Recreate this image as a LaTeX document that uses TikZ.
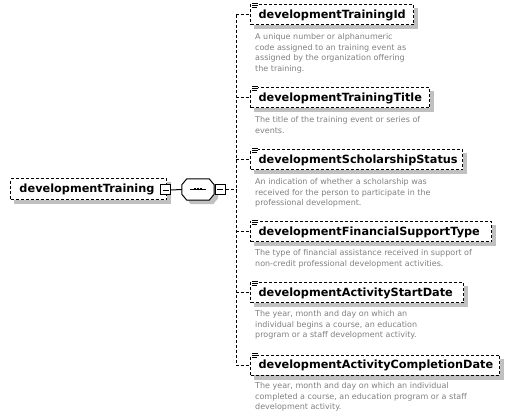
\documentclass[tikz,border=0pt]{standalone}
\usepackage{fontspec}
\setmainfont{DejaVu Sans}
\usetikzlibrary{backgrounds}
\definecolor{shadowgray}{RGB}{192,192,192}
\definecolor{descgray}{RGB}{128,128,128}
\tikzset{
  elem/.style={draw, dash pattern=on 3pt off 2pt, line width=1pt, fill=white,
    minimum height=20pt, inner sep=0pt, anchor=west,
    font=\fontsize{11.3}{13}\selectfont\bfseries, align=left},
  desc/.style={anchor=north west, inner sep=0pt,
    font=\fontsize{8}{10.8}\selectfont, text=descgray, align=left},
  minusbox/.style={draw, fill=white, line width=1pt, minimum size=10pt, inner sep=0pt},
  conn/.style={dash pattern=on 3pt off 2pt, line width=1pt},
  solidline/.style={line width=1pt},
  octframe/.style={inner sep=0pt, minimum width=32pt, minimum height=21pt},
}
\newcommand{\shadowof}[1]{\fill[shadowgray] ([shift={(4pt,-4pt)}]#1.south west) rectangle ([shift={(4pt,-4pt)}]#1.north east);}
\newcommand{\octpath}[1]{([xshift=5pt]#1.north west) -- ([xshift=-5pt]#1.north east) -- ([yshift=-6pt]#1.north east) -- ([yshift=6pt]#1.south east) -- ([xshift=-5pt]#1.south east) -- ([xshift=5pt]#1.south west) -- ([yshift=6pt]#1.south west) -- ([yshift=-6pt]#1.north west) -- cycle}
\newcommand{\iconat}[1]{%
  \fill[white] ([shift={(1pt,1.5pt)}]#1.north west) rectangle ([shift={(8pt,-4.5pt)}]#1.north west);
  \draw[line width=0.8pt] ([shift={(2pt,1pt)}]#1.north west) -- ([shift={(8pt,1pt)}]#1.north west);
  \draw[line width=0.8pt] ([shift={(2pt,-1pt)}]#1.north west) -- ([shift={(8pt,-1pt)}]#1.north west);
  \draw[line width=0.8pt] ([shift={(2pt,-3pt)}]#1.north west) -- ([shift={(7pt,-3pt)}]#1.north west);}
\begin{document}
\begin{tikzpicture}[x=1pt,y=-1pt]
\useasboundingbox (0,0) rectangle (511,419);

% root
\node[elem, minimum width=156pt, text width=138pt, minimum height=21pt] (root) at (10,189.5) {developmentTraining};
\node[minusbox] (rootminus) at (165.5,190) {};
\draw[line width=0.8pt] ([xshift=-3pt]rootminus.center) -- ([xshift=3pt]rootminus.center);

% sequence compositor
\node[octframe] (seqshadow) at (202,193.5) {};
\node[octframe] (seq) at (198,189.5) {};
\fill[shadowgray] \octpath{seqshadow};
\draw[solidline, fill=white] \octpath{seq};
\draw[line width=0.8pt] ([xshift=-8pt]seq.center) -- ([xshift=8pt]seq.center);
\fill ([shift={(-4pt,-1pt)}]seq.center) rectangle ([shift={(-2pt,1pt)}]seq.center);
\fill ([shift={(-1pt,-1pt)}]seq.center) rectangle ([shift={(1pt,1pt)}]seq.center);
\fill ([shift={(2pt,-1pt)}]seq.center) rectangle ([shift={(4pt,1pt)}]seq.center);
\node[minusbox] (seqminus) at (220,189.5) {};
\draw[line width=0.8pt] ([xshift=-3pt]seqminus.center) -- ([xshift=3pt]seqminus.center);
\draw[solidline] (rootminus.east) -- (seq.west);

% children
\node[elem, minimum width=163pt, text width=147pt] (c1) at (250,15) {developmentTrainingId};
\node[elem, minimum width=179pt, text width=163pt] (c2) at (250,98) {developmentTrainingTitle};
\node[elem, minimum width=212pt, text width=196pt] (c3) at (250,160) {developmentScholarshipStatus};
\node[elem, minimum width=241pt, text width=225pt] (c4) at (250,232) {developmentFinancialSupportType};
\node[elem, minimum width=213pt, text width=197pt] (c5) at (250,293) {developmentActivityStartDate};
\node[elem, minimum width=249pt, text width=233pt] (c6) at (250,365) {developmentActivityCompletionDate};

\begin{scope}[on background layer]
\shadowof{root}
\shadowof{c1}\shadowof{c2}\shadowof{c3}\shadowof{c4}\shadowof{c5}\shadowof{c6}
\end{scope}

\iconat{c1}\iconat{c2}\iconat{c3}\iconat{c4}\iconat{c5}\iconat{c6}

% descriptions
\node[desc] (d1) at (255,33) {A unique number or alphanumeric\\code assigned to an training event as\\assigned by the organization offering\\the training.};
\node[desc] (d2) at (255,116) {The title of the training event or series of\\events.};
\node[desc] (d3) at (255,178) {An indication of whether a scholarship was\\received for the person to participate in the\\professional development.};
\node[desc] (d4) at (255,249) {The type of financial assistance received in support of\\non-credit professional development activities.};
\node[desc] (d5) at (255,310) {The year, month and day on which an\\individual begins a course, an education\\program or a staff development activity.};
\node[desc] (d6) at (255,382) {The year, month and day on which an individual\\completed a course, an education program or a staff\\development activity.};

% connectors
\coordinate (spine) at (236,189.5);
\draw[conn] (seqminus.east) -- (spine);
\draw[conn] (spine |- c1.west) -- (spine |- c6.west);
\foreach \c in {c1,c2,c3,c4,c5,c6} \draw[conn] (spine |- \c.west) -- (\c.west);
\end{tikzpicture}
\end{document}
